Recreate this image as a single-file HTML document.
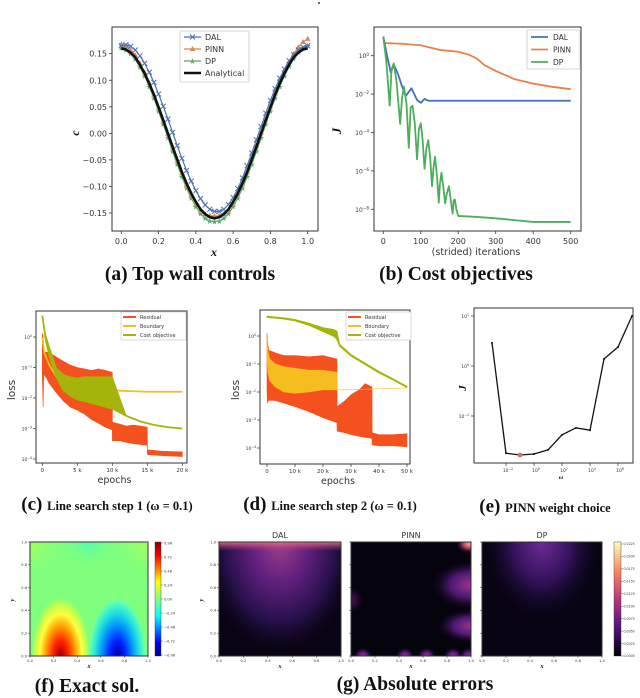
<!DOCTYPE html>
<html><head><meta charset="utf-8"><style>
html,body{margin:0;padding:0;background:#fff;width:640px;height:698px;overflow:hidden}
svg{display:block}
.t{font-family:"DejaVu Sans","Liberation Sans",sans-serif;fill:#333}
.cap{font-family:"Liberation Serif",serif;font-weight:bold;fill:#111}
</style></head><body>
<svg id="fig" width="640" height="698" viewBox="0 0 640 698" xmlns="http://www.w3.org/2000/svg">
<defs>
<linearGradient id="jet" x1="0" y1="0" x2="0" y2="1">
<stop offset="0" stop-color="#800000"/><stop offset="0.12" stop-color="#ff0000"/><stop offset="0.35" stop-color="#ffff00"/><stop offset="0.5" stop-color="#80ff80"/><stop offset="0.65" stop-color="#00ffff"/><stop offset="0.88" stop-color="#0000ff"/><stop offset="1" stop-color="#000080"/>
</linearGradient>
<linearGradient id="magma" x1="0" y1="0" x2="0" y2="1">
<stop offset="0" stop-color="#fcfdbf"/><stop offset="0.25" stop-color="#fc8961"/><stop offset="0.5" stop-color="#b73779"/><stop offset="0.75" stop-color="#51127c"/><stop offset="1" stop-color="#000004"/>
</linearGradient>
<linearGradient id="daledge" x1="0" y1="0" x2="0" y2="1">
<stop offset="0" stop-color="#f07080" stop-opacity="0.9"/><stop offset="1" stop-color="#b0407a" stop-opacity="0"/>
</linearGradient>
<radialGradient id="redblob">
<stop offset="0" stop-color="#a00000"/><stop offset="0.25" stop-color="#ff2000"/><stop offset="0.5" stop-color="#ffa000"/><stop offset="0.7" stop-color="#ffff40"/><stop offset="0.88" stop-color="#b8ff50"/><stop offset="1" stop-color="#80ff7e" stop-opacity="0"/>
</radialGradient>
<radialGradient id="blueblob">
<stop offset="0" stop-color="#0000a0"/><stop offset="0.25" stop-color="#0020ff"/><stop offset="0.5" stop-color="#0090ff"/><stop offset="0.72" stop-color="#20e0e0"/><stop offset="0.9" stop-color="#60ffb0"/><stop offset="1" stop-color="#80ff7e" stop-opacity="0"/>
</radialGradient>
<radialGradient id="cyantop">
<stop offset="0" stop-color="#50ffb0"/><stop offset="1" stop-color="#80ff7e" stop-opacity="0"/>
</radialGradient>
<radialGradient id="yeltop">
<stop offset="0" stop-color="#a8ff58"/><stop offset="1" stop-color="#80ff7e" stop-opacity="0"/>
</radialGradient>
<radialGradient id="daltop">
<stop offset="0" stop-color="#a0408e"/><stop offset="0.35" stop-color="#62207e"/><stop offset="0.7" stop-color="#26104a"/><stop offset="1" stop-color="#0a0414" stop-opacity="0"/>
</radialGradient>
<radialGradient id="purp">
<stop offset="0" stop-color="#9a3490"/><stop offset="0.5" stop-color="#4c1870"/><stop offset="1" stop-color="#05030c" stop-opacity="0"/>
</radialGradient>
<radialGradient id="orng">
<stop offset="0" stop-color="#fba85e"/><stop offset="0.4" stop-color="#c23c74"/><stop offset="1" stop-color="#05030c" stop-opacity="0"/>
</radialGradient>
<radialGradient id="dptop">
<stop offset="0" stop-color="#6e2a98"/><stop offset="0.5" stop-color="#32125a"/><stop offset="1" stop-color="#080414" stop-opacity="0"/>
</radialGradient>
<clipPath id="clipF"><rect x="30" y="542" width="118" height="114"/></clipPath>
<clipPath id="clipDAL"><rect x="219" y="542" width="122" height="114"/></clipPath>
<clipPath id="clipPINN"><rect x="351" y="542" width="120" height="114"/></clipPath>
<clipPath id="clipDP"><rect x="482" y="542" width="120" height="114"/></clipPath>
</defs>
</svg>
<script>
// ---------- data: panel (a) ----------
const aX = [0,0.025,0.05,0.075,0.1,0.125,0.15,0.175,0.2,0.225,0.25,0.275,0.3,0.325,0.35,0.375,0.4,0.425,0.45,0.475,0.5,0.525,0.55,0.575,0.6,0.625,0.65,0.675,0.7,0.725,0.75,0.775,0.8,0.825,0.85,0.875,0.9,0.925,0.95,0.975,1.0];
const aAnalytical = [.160,.158,.152,.143,.129,.113,.094,.073,.049,.025,0,-.025,-.049,-.073,-.094,-.113,-.129,-.143,-.152,-.158,-.160,-.158,-.152,-.143,-.129,-.113,-.094,-.073,-.049,-.025,0,.025,.049,.073,.094,.113,.129,.143,.152,.158,.160];
const aDAL = [.165,.167,.164,.157,.146,.132,.115,.096,.074,.051,.027,.002,-.023,-.047,-.070,-.090,-.108,-.123,-.135,-.143,-.147,-.147,-.143,-.134,-.121,-.104,-.084,-.061,-.037,-.012,.013,.038,.062,.084,.104,.121,.137,.148,.157,.162,.165];
const aPINN = [.168,.164,.157,.147,.132,.115,.095,.073,.049,.024,-.001,-.026,-.051,-.075,-.097,-.116,-.132,-.145,-.152,-.155,-.156,-.155,-.152,-.145,-.132,-.115,-.095,-.073,-.049,-.024,.001,.026,.051,.075,.097,.117,.134,.150,.162,.172,.178];
const aDP = [.160,.157,.150,.140,.125,.108,.088,.066,.042,.017,-.008,-.034,-.058,-.082,-.103,-.122,-.138,-.151,-.160,-.165,-.166,-.165,-.160,-.151,-.138,-.122,-.103,-.082,-.058,-.034,-.008,.017,.042,.066,.088,.108,.126,.141,.153,.161,.165];
const aXTicks = [0,0.2,0.4,0.6,0.8,1.0];
const aXTickLabels = ["0.0","0.2","0.4","0.6","0.8","1.0"];
const aYTicks = [0.15,0.10,0.05,0,-0.05,-0.10,-0.15];
const aYTickLabels = ["0.15","0.10","0.05","0.00","\u22120.05","\u22120.10","\u22120.15"];
// ---------- data: panel (b) ----------
const bDALx = [0,10,20,28,40,50,60,75,90,100,110,120,140,300,500];
const bDAL = [10,1,0.13,0.35,0.1,0.025,0.008,0.02,0.005,0.0035,0.0056,0.0045,0.0045,0.0045,0.0045];
const bPINNx = [0,50,100,150,200,230,250,270,300,350,400,450,500];
const bPINN = [4.6,4.2,3.5,2.0,1.6,1.1,0.7,0.32,0.16,0.06,0.035,0.024,0.018];
const bDPx = [0,8,17,22,28,35,45,50,55,62,68,73,78,84,90,95,100,105,110,115,120,125,130,134,138,143,148,151,155,160,165,169,175,180,185,188,191,195,200,250,300,400,500];
const bDP = [10,0.5,0.0025,0.2,0.4,0.05,0.00028,0.006,0.025,0.003,1.6e-5,0.002,0.0025,0.0003,4e-6,0.00015,0.0003,4e-5,1.3e-6,1.5e-5,4e-5,5e-6,1.6e-7,1.5e-6,5.5e-6,6e-7,2.2e-8,2e-7,8e-7,1.5e-7,2e-8,6e-8,1.6e-7,3e-8,6e-9,3e-8,3.2e-8,1e-8,4.5e-9,4e-9,3.4e-9,2.2e-9,2.2e-9];
const bXTicks = [0,100,200,300,400,500];
const bYTicks = [0,-2,-4,-6,-8];
const bYTickLabels = ["0","\u22122","\u22124","\u22126","\u22128"];
// ---------- data: panel (c) ----------
const cResX = [0,0.12,0.2,0.5,1,2,3,4,5,6,7,8,9,10,10.02,11,12,13,14,15,15.02,17,20];
const cResHi = [1.3,1.1,0.3,0.32,0.3,0.22,0.16,0.12,0.1,0.09,0.08,0.09,0.08,0.07,0.0016,0.0014,0.0012,0.0013,0.0012,0.0011,0.0002,0.00018,0.00017];
const cResLo = [0.05,0.005,0.06,0.05,0.03,0.015,0.008,0.005,0.004,0.003,0.002,0.0015,0.0011,0.0009,0.0004,0.0004,0.00035,0.00032,0.0003,0.00028,0.00014,0.00013,0.00012];
const cBndX = [0,0.3,1,2,3,4,6,8,10,12,15,20];
const cBnd = [1.0,0.3,0.12,0.05,0.03,0.025,0.02,0.019,0.018,0.017,0.016,0.016];
const cCostX = [0,0.5,1,2,3,4,5,6,8,10,12,14,16,18,20];
const cCost = [5,0.8,0.25,0.05,0.018,0.012,0.009,0.008,0.006,0.0045,0.0026,0.0017,0.0013,0.0011,0.001];
const cCostHi = [5,1.2,0.5,0.1,0.06,0.05,0.045,0.05,0.05,0.05,0.0026,0.0017,0.0013,0.0011,0.001];
const cXTicks = [0,5,10,15,20];
const cXTickLabels = ["0","5 k","10 k","15 k","20 k"];
const cYTicks = [0,-1,-2,-3,-4];
const cYTickLabels = ["0","\u22121","\u22122","\u22123","\u22124"];
// ---------- data: panel (d) ----------
const dResX = [0,0.2,0.6,1,3,6,10,15,20,25,25.05,28,30,33,35,37.5,37.55,40,45,50];
const dResHi = [1.3,0.6,0.3,0.3,0.25,0.2,0.2,0.18,0.2,0.15,0.003,0.005,0.008,0.012,0.02,0.015,0.00035,0.0003,0.0003,0.00032];
const dResLo = [0.01,0.004,0.005,0.005,0.005,0.004,0.003,0.002,0.0012,0.0008,0.0004,0.00035,0.0003,0.00026,0.00024,0.00022,0.00013,0.00012,0.00012,0.00011];
const dBndX = [0,0.3,1,3,6,10,15,20,25,25.05,30,40,50];
const dBndHi = [0.9,0.3,0.15,0.1,0.08,0.07,0.06,0.06,0.05,0.012,0.012,0.013,0.014];
const dBndLo = [0.2,0.05,0.025,0.015,0.01,0.009,0.01,0.012,0.012,0.012,0.012,0.013,0.014];
const dCostX = [0,3,6,10,15,20,24,25,26,28,30,35,40,45,50];
const dCost = [4.8,4.5,4.2,3.6,2.5,1.5,1.0,0.8,0.45,0.3,0.2,0.1,0.05,0.028,0.015];
const dCostHi = [5.2,4.8,4.5,3.9,2.9,2.0,1.7,1.5,0.5,0.34,0.22,0.11,0.055,0.03,0.016];
const dXTicks = [0,10,20,30,40,50];
const dXTickLabels = ["0","10 k","20 k","30 k","40 k","50 k"];
const dYTicks = [0,-1,-2,-3,-4];
const dYTickLabels = ["0","\u22121","\u22122","\u22123","\u22124"];
// ---------- data: panel (e) ----------
const eOmegaExp = [-3,-2,-1,0,1,2,3,4,5,6,7];
const eJ = [2.9,0.018,0.0166,0.0174,0.021,0.042,0.058,0.052,1.38,2.4,10];
const eBestIndex = 2;
const eXTicks = [-2,0,2,4,6];
const eXTickLabels = ["\u22122","0","2","4","6"];
const eYTicks = [1,0,-1];
const eYTickLabels = ["1","0","\u22121"];
// ---------- data: heatmaps ----------
const hmTicks = [0,0.2,0.4,0.6,0.8,1.0];
const hmTickLabels = ["0.0","0.2","0.4","0.6","0.8","1.0"];
const fCbarTicks = [0.96,0.72,0.48,0.24,0,-0.24,-0.48,-0.72,-0.96];
const fCbarLabels = ["0.96","0.72","0.48","0.24","0.00","\u22120.24","\u22120.48","\u22120.72","\u22120.96"];
const gCbarTicks = [0.0225,0.02,0.0175,0.015,0.0125,0.01,0.0075,0.005,0.0025,0];
const gCbarLabels = ["0.0225","0.0200","0.0175","0.0150","0.0125","0.0100","0.0075","0.0050","0.0025","0.0000"];

const NS = 'http://www.w3.org/2000/svg';
const svg = document.getElementById('fig');
function mk(tag, attrs, parent) {
  const e = document.createElementNS(NS, tag);
  for (const k in attrs) e.setAttribute(k, attrs[k]);
  (parent || svg).appendChild(e);
  return e;
}
function group(name) {
  const g = mk('g', {});
  
  
  return g;
}
function txt(p, x, y, s, size, anchor, cls) {
  const t = mk('text', {x: x, y: y, 'font-size': size, 'text-anchor': anchor || 'middle', class: cls || 't'}, p);
  t.textContent = s;
  return t;
}
function pow10(p, x, y, exp, size, anchor) {
  const t = mk('text', {x: x, y: y, 'font-size': size, 'text-anchor': anchor || 'end', class: 't'}, p);
  t.appendChild(document.createTextNode('10'));
  const s = mk('tspan', {dy: -size * 0.4, 'font-size': size * 0.7}, t);
  s.textContent = exp;
  return t;
}
function poly(p, pts, stroke, w, fill) {
  return mk('polyline', {points: pts.map(q => q[0].toFixed(2) + ',' + q[1].toFixed(2)).join(' '), fill: fill || 'none', stroke: stroke, 'stroke-width': w, 'stroke-linejoin': 'round'}, p);
}
function band(p, xs, hi, lo, sx, sy, color) {
  const pts = [];
  for (let i = 0; i < xs.length; i++) pts.push([sx(xs[i]), sy(hi[i])]);
  for (let i = xs.length - 1; i >= 0; i--) pts.push([sx(xs[i]), sy(lo[i])]);
  return mk('polygon', {points: pts.map(q => q[0].toFixed(2) + ',' + q[1].toFixed(2)).join(' '), fill: color, stroke: color, 'stroke-width': 0.6}, p);
}
function frame(p, x0, y0, x1, y1) {
  return mk('rect', {x: x0, y: y0, width: x1 - x0, height: y1 - y0, fill: 'none', stroke: '#333', 'stroke-width': 1}, p);
}
const lg = Math.log10;

const dot = mk('circle', {cx: 319, cy: 3, r: 0.9, fill: '#000'});



// ================= Panel (a) =================
const gA = group('panel-a-top-wall-controls');
const xA = v => 121.3 + v * (307.7 - 121.3);
const yA = v => 133.35 - v * 531;
frame(gA, 112, 27, 318, 231);
aXTicks.forEach((v, i) => {
  mk('line', {x1: xA(v), x2: xA(v), y1: 231, y2: 234, stroke: '#333', 'stroke-width': 0.8}, gA);
  const t = txt(gA, xA(v), 244, aXTickLabels[i], 8);
  
  
});
aYTicks.forEach((v, i) => {
  mk('line', {x1: 109, x2: 112, y1: yA(v), y2: yA(v), stroke: '#333', 'stroke-width': 0.8}, gA);
  const t = txt(gA, 107, yA(v) + 3, aYTickLabels[i], 8, 'end');
  
  
});
const axl = txt(gA, 214, 256, 'x', 12, 'middle', 'cap');
axl.setAttribute('font-style', 'italic'); axl.setAttribute('font-weight', 'normal');


const ayl = txt(gA, 0, 0, 'c', 12, 'middle', 'cap');
ayl.setAttribute('transform', 'translate(79,133) rotate(-90)');
ayl.setAttribute('font-style', 'italic'); ayl.setAttribute('font-weight', 'normal');


function seriesA(name, vals, color, w, marker) {
  const g = mk('g', {}, gA);
  
  
  poly(g, aX.map((x, i) => [xA(x), yA(vals[i])]), color, w);
  aX.forEach((x, i) => {
    const cx = xA(x), cy = yA(vals[i]);
    if (marker === 'x') {
      mk('path', {d: `M${cx-2.5},${cy-2.5}L${cx+2.5},${cy+2.5}M${cx-2.5},${cy+2.5}L${cx+2.5},${cy-2.5}`, stroke: color, 'stroke-width': 1}, g);
    } else if (marker === 't') {
      mk('polygon', {points: `${cx},${cy-3} ${cx-2.7},${cy+2} ${cx+2.7},${cy+2}`, fill: color}, g);
    } else if (marker === 's') {
      mk('text', {x: cx, y: cy + 2.8, 'font-size': 8, 'text-anchor': 'middle', fill: color}, g).textContent = '\u2605';
    }
  });
}
seriesA('dp-series', aDP, '#55a868', 1.2, 's');
seriesA('pinn-series', aPINN, '#dd8452', 1.2, 't');
seriesA('dal-series', aDAL, '#4c72b0', 1.2, 'x');
seriesA('analytical-series', aAnalytical, '#111', 2.6, null);
const legA = mk('g', {}, gA);


mk('rect', {x: 180, y: 31, width: 69, height: 51, fill: '#fff', stroke: '#ccc', 'stroke-width': 0.8, rx: 1.5}, legA);
const legAItems = [['DAL', '#4c72b0', 'x', 1.2], ['PINN', '#dd8452', 't', 1.2], ['DP', '#55a868', 's', 1.2], ['Analytical', '#111', null, 2.6]];
legAItems.forEach((it, i) => {
  const y = 37 + i * 12;
  const e = mk('g', {}, legA);
  
  
  mk('line', {x1: 184, x2: 201, y1: y, y2: y, stroke: it[1], 'stroke-width': it[3]}, e);
  const cx = 192.5;
  if (it[2] === 'x') mk('path', {d: `M${cx-2.5},${y-2.5}L${cx+2.5},${y+2.5}M${cx-2.5},${y+2.5}L${cx+2.5},${y-2.5}`, stroke: it[1], 'stroke-width': 1}, e);
  if (it[2] === 't') mk('polygon', {points: `${cx},${y-3} ${cx-2.7},${y+2} ${cx+2.7},${y+2}`, fill: it[1]}, e);
  if (it[2] === 's') mk('text', {x: cx, y: y + 2.8, 'font-size': 8, 'text-anchor': 'middle', fill: it[1]}, e).textContent = '\u2605';
  txt(e, 205, y + 3, it[0], 8, 'start');
});
const capA = txt(svg, 190, 280, '(a) Top wall controls', 19.5, 'middle', 'cap');



// ================= Panel (b) =================
const gB = group('panel-b-cost-objectives');
const xB = v => 383.3 + v * (570.7 - 383.3) / 500;
const yB = v => 55.7 - lg(v) * 19.2;
frame(gB, 374, 27, 581, 231);
bXTicks.forEach(v => {
  mk('line', {x1: xB(v), x2: xB(v), y1: 231, y2: 234, stroke: '#333', 'stroke-width': 0.8}, gB);
  const t = txt(gB, xB(v), 244, String(v), 8);
  
  
});
bYTicks.forEach((v, i) => {
  const y = 55.7 - v * 19.2;
  mk('line', {x1: 371, x2: 374, y1: y, y2: y, stroke: '#333', 'stroke-width': 0.8}, gB);
  const t = pow10(gB, 369, y + 2.5, bYTickLabels[i], 6, 'end');
  
  
});
const bxl = txt(gB, 476, 255, '(strided) iterations', 9.5);


const byl = txt(gB, 0, 0, 'J', 13, 'middle', 'cap');
byl.setAttribute('transform', 'translate(341,131) rotate(-90)');
byl.setAttribute('font-style', 'italic'); byl.setAttribute('font-weight', 'normal');


const bS = [['pinn-cost-line', bPINNx, bPINN, '#e8804a'], ['dal-cost-line', bDALx, bDAL, '#4470b8'], ['dp-cost-line', bDPx, bDP, '#4cae5c']];
bS.forEach(s => {
  const p = poly(gB, s[1].map((x, i) => [xB(x), yB(s[2][i])]), s[3], 1.8);
  
  
});
const legB = mk('g', {}, gB);


mk('rect', {x: 527, y: 30, width: 53, height: 39, fill: '#fff', stroke: '#ccc', 'stroke-width': 0.8, rx: 1.5}, legB);
[['DAL', '#4470b8'], ['PINN', '#e8804a'], ['DP', '#4cae5c']].forEach((it, i) => {
  const y = 37 + i * 12.5;
  const e = mk('g', {}, legB);
  
  
  mk('line', {x1: 531, x2: 548, y1: y, y2: y, stroke: it[1], 'stroke-width': 1.8}, e);
  txt(e, 553, y + 3, it[0], 7.5, 'start');
});
const capB = txt(svg, 456, 280, '(b) Cost objectives', 19.5, 'middle', 'cap');



// ================= Loss panels helper =================
function lossAxes(g, x0, y0, x1, y1, sx, ly, xt, xtl, yt, ytl, ylabX) {
  frame(g, x0, y0, x1, y1);
  xt.forEach((v, i) => {
    mk('line', {x1: sx(v), x2: sx(v), y1: y1, y2: y1 + 3, stroke: '#333', 'stroke-width': 0.7}, g);
    const t = txt(g, sx(v), y1 + 9, xtl[i], 5.5);
    
    
  });
  yt.forEach((v, i) => {
    const y = ly(v);
    mk('line', {x1: x0 - 3, x2: x0, y1: y, y2: y, stroke: '#333', 'stroke-width': 0.7}, g);
    const t = pow10(g, x0 - 4, y + 2, ytl[i], 4.5, 'end');
    
    
  });
  const xl = txt(g, (x0 + x1) / 2 + 3, y1 + 20, 'epochs', 9.5);
  
  
  const yl = txt(g, 0, 0, 'loss', 10.5);
  yl.setAttribute('transform', `translate(${ylabX},390) rotate(-90)`);
  
  
}
function lossLegend(g, x, y) {
  const L = mk('g', {}, g);
  
  
  mk('rect', {x: x, y: y, width: 65, height: 28, fill: '#fff', stroke: '#ccc', 'stroke-width': 0.7, rx: 1}, L);
  [['Residual', '#f4511e'], ['Boundary', '#f5bd1f'], ['Cost objective', '#a4b40a']].forEach((it, i) => {
    const yy = y + 5 + i * 9;
    const e = mk('g', {}, L);
    
    
    mk('line', {x1: x + 2, x2: x + 15, y1: yy, y2: yy, stroke: it[1], 'stroke-width': 2}, e);
    txt(e, x + 19, yy + 2, it[0], 5, 'start');
  });
}
const RES = '#f4511e', BND = '#f5bd1f', COST = '#a4b40a';

// ================= Panel (c) =================
const gC = group('panel-c-line-search-step-1');
const xC = v => 42.3 + v / 20 * 140;
const yC = v => 337 - lg(v) * 30.5;
const cRes = band(gC, cResX, cResHi, cResLo, xC, yC, RES);


const cB = poly(gC, cBndX.map((x, i) => [xC(x), yC(cBnd[i])]), BND, 1.8);


const cCb = band(gC, cCostX, cCostHi, cCost, xC, yC, COST);


const cCl = poly(gC, cCostX.map((x, i) => [xC(x), yC(cCost[i])]), COST, 1.8);


lossAxes(gC, 36, 311, 187, 463, xC, v => 337 - v * 30.5, cXTicks, cXTickLabels, cYTicks, cYTickLabels, 15);
lossLegend(gC, 121, 312);
const capC = mk('text', {x: 107, y: 510, 'text-anchor': 'middle', class: 'cap', 'font-size': 19});


capC.appendChild(document.createTextNode('(c) '));
mk('tspan', {'font-size': 12.5}, capC).textContent = 'Line search step 1 (\u03C9 = 0.1)';

// ================= Panel (d) =================
const gD = group('panel-d-line-search-step-2');
const xD = v => 267 + v / 50 * 140;
const yD = v => 336 - lg(v) * 28;
const dRes = band(gD, dResX, dResHi, dResLo, xD, yD, RES);


const dB = band(gD, dBndX, dBndHi, dBndLo, xD, yD, BND);


const dCb = band(gD, dCostX, dCostHi, dCost, xD, yD, COST);


const dCl = poly(gD, dCostX.map((x, i) => [xD(x), yD(dCost[i])]), COST, 1.8);


lossAxes(gD, 260, 310, 410, 464, xD, v => 336 - v * 28, dXTicks, dXTickLabels, dYTicks, dYTickLabels, 239);
lossLegend(gD, 346, 312);
const capD = mk('text', {x: 330, y: 510, 'text-anchor': 'middle', class: 'cap', 'font-size': 19});


capD.appendChild(document.createTextNode('(d) '));
mk('tspan', {'font-size': 12.5}, capD).textContent = 'Line search step 2 (\u03C9 = 0.1)';

// ================= Panel (e) =================
const gE = group('panel-e-pinn-weight-choice');
const xE = v => 506 + (v + 2) * 14;
const yE = v => 366 - lg(v) * 50;
frame(gE, 474, 308, 633, 463);
eXTicks.forEach((v, i) => {
  mk('line', {x1: xE(v), x2: xE(v), y1: 463, y2: 466, stroke: '#333', 'stroke-width': 0.7}, gE);
  const t = pow10(gE, xE(v) + 2, 472, eXTickLabels[i], 4.5, 'middle');
  
  
});
eYTicks.forEach((v, i) => {
  const y = 366 - v * 50;
  mk('line', {x1: 471, x2: 474, y1: y, y2: y, stroke: '#333', 'stroke-width': 0.7}, gE);
  const t = pow10(gE, 469, y + 2, eYTickLabels[i], 4.5, 'end');
  
  
});
const exl = txt(gE, 561, 479, '\u03C9', 6, 'middle', 'cap');
exl.setAttribute('font-weight', 'normal'); exl.setAttribute('font-style', 'italic');


const eyl = txt(gE, 0, 0, 'J', 11, 'middle', 'cap');
eyl.setAttribute('transform', 'translate(466,388) rotate(-90)');
eyl.setAttribute('font-weight', 'normal'); eyl.setAttribute('font-style', 'italic');


const eL = poly(gE, eOmegaExp.map((x, i) => [xE(x), yE(eJ[i])]), '#111', 1.3);


eOmegaExp.forEach((x, i) => {
  const c = mk('circle', {cx: xE(x), cy: yE(eJ[i]), r: 1, fill: '#111'}, gE);
  
  
});
const best = mk('circle', {cx: xE(eOmegaExp[eBestIndex]), cy: yE(eJ[eBestIndex]), r: 2.4, fill: '#d9706a'}, gE);


const capE = mk('text', {x: 545, y: 512, 'text-anchor': 'middle', class: 'cap', 'font-size': 19});


capE.appendChild(document.createTextNode('(e) '));
mk('tspan', {'font-size': 12.5}, capE).textContent = 'PINN weight choice';

// ================= Heatmaps =================
function hmAxes(g, x0, w, showY) {
  const y0 = 542, h = 114;
  frame(g, x0, y0, x0 + w, y0 + h);
  hmTicks.forEach((v, i) => {
    const x = x0 + v * w;
    mk('line', {x1: x, x2: x, y1: y0 + h, y2: y0 + h + 2, stroke: '#333', 'stroke-width': 0.5}, g);
    const t = txt(g, x, y0 + h + 6, hmTickLabels[i], 3.6);
    
    
    const y = y0 + h - v * h;
    mk('line', {x1: x0 - 2, x2: x0, y1: y, y2: y, stroke: '#333', 'stroke-width': 0.5}, g);
    if (showY) {
      const t2 = txt(g, x0 - 3, y + 1.3, hmTickLabels[i], 3.6, 'end');
      
      
    }
  });
  const xl = txt(g, x0 + w / 2, y0 + h + 12, 'x', 6, 'middle', 'cap');
  xl.setAttribute('font-style', 'italic'); xl.setAttribute('font-weight', 'normal');
  
  
  if (showY) {
    const yl = txt(g, 0, 0, 'y', 6, 'middle', 'cap');
    yl.setAttribute('transform', `translate(${x0 - 16},600) rotate(-90)`);
    yl.setAttribute('font-style', 'italic'); yl.setAttribute('font-weight', 'normal');
    
    
  }
}
// (f)
const gF = group('panel-f-exact-solution');
const fImg = mk('g', {'clip-path': 'url(#clipF)'}, gF);


mk('rect', {x: 30, y: 542, width: 118, height: 114, fill: '#80ff7e'}, fImg);
mk('ellipse', {cx: 30, cy: 542, rx: 35, ry: 40, fill: 'url(#yeltop)'}, fImg);
mk('ellipse', {cx: 148, cy: 542, rx: 35, ry: 40, fill: 'url(#yeltop)'}, fImg);
mk('ellipse', {cx: 89, cy: 542, rx: 30, ry: 28, fill: 'url(#cyantop)'}, fImg);
mk('ellipse', {cx: 30 + 0.26 * 118, cy: 656, rx: 30, ry: 60, fill: 'url(#redblob)'}, fImg);
mk('ellipse', {cx: 30 + 0.74 * 118, cy: 656, rx: 30, ry: 60, fill: 'url(#blueblob)'}, fImg);
hmAxes(gF, 30, 118, true);
const cbF = mk('rect', {x: 155, y: 542, width: 6, height: 114, fill: 'url(#jet)', stroke: '#333', 'stroke-width': 0.4}, gF);


fCbarTicks.forEach((v, i) => {
  const y = 599 - v / 0.24 * 14;
  mk('line', {x1: 161, x2: 163, y1: y, y2: y, stroke: '#333', 'stroke-width': 0.4}, gF);
  txt(gF, 164, y + 1.3, fCbarLabels[i], 3.6, 'start');
});
const capF = txt(svg, 87, 692, '(f) Exact sol.', 19.5, 'middle', 'cap');



// (g)
const gG = group('panel-g-absolute-errors');
const gDAL = mk('g', {}, gG);


const dalImg = mk('g', {'clip-path': 'url(#clipDAL)'}, gDAL);
mk('rect', {x: 219, y: 542, width: 122, height: 114, fill: '#0a0414'}, dalImg);
mk('ellipse', {cx: 280, cy: 542, rx: 80, ry: 115, fill: 'url(#daltop)'}, dalImg);
mk('rect', {x: 219, y: 542, width: 122, height: 9, fill: 'url(#daledge)'}, dalImg);
hmAxes(gDAL, 219, 122, true);
txt(gDAL, 280, 538, 'DAL', 8);
const gP = mk('g', {}, gG);


const pImg = mk('g', {'clip-path': 'url(#clipPINN)'}, gP);
mk('rect', {x: 351, y: 542, width: 120, height: 114, fill: '#05030c'}, pImg);
mk('ellipse', {cx: 471, cy: 585, rx: 42, ry: 26, fill: 'url(#purp)'}, pImg);
mk('ellipse', {cx: 471, cy: 626, rx: 36, ry: 18, fill: 'url(#purp)'}, pImg);
mk('ellipse', {cx: 469, cy: 544, rx: 14, ry: 10, fill: 'url(#orng)'}, pImg);
[0.1, 0.45, 0.63, 0.85, 0.98].forEach(v => mk('ellipse', {cx: 351 + v * 120, cy: 656, rx: 10, ry: 9, fill: 'url(#purp)'}, pImg));
mk('ellipse', {cx: 351, cy: 600, rx: 14, ry: 14, fill: 'url(#purp)', opacity: 0.4}, pImg);
hmAxes(gP, 351, 120, false);
txt(gP, 411, 538, 'PINN', 8);
const gDP = mk('g', {}, gG);


const dpImg = mk('g', {'clip-path': 'url(#clipDP)'}, gDP);
mk('rect', {x: 482, y: 542, width: 120, height: 114, fill: '#080414'}, dpImg);
mk('ellipse', {cx: 542, cy: 542, rx: 60, ry: 80, fill: 'url(#dptop)'}, dpImg);
hmAxes(gDP, 482, 120, false);
txt(gDP, 542, 538, 'DP', 8);
const cbG = mk('rect', {x: 614, y: 542, width: 7, height: 114, fill: 'url(#magma)', stroke: '#333', 'stroke-width': 0.4}, gG);


gCbarTicks.forEach((v, i) => {
  const y = 656 - v / 0.0225 * 112;
  mk('line', {x1: 621, x2: 623, y1: y, y2: y, stroke: '#333', 'stroke-width': 0.4}, gG);
  txt(gG, 623.5, y + 1.2, gCbarLabels[i], 3.2, 'start');
});
const capG = txt(svg, 415, 690, '(g) Absolute errors', 19.5, 'middle', 'cap');


</script>
</body></html>
